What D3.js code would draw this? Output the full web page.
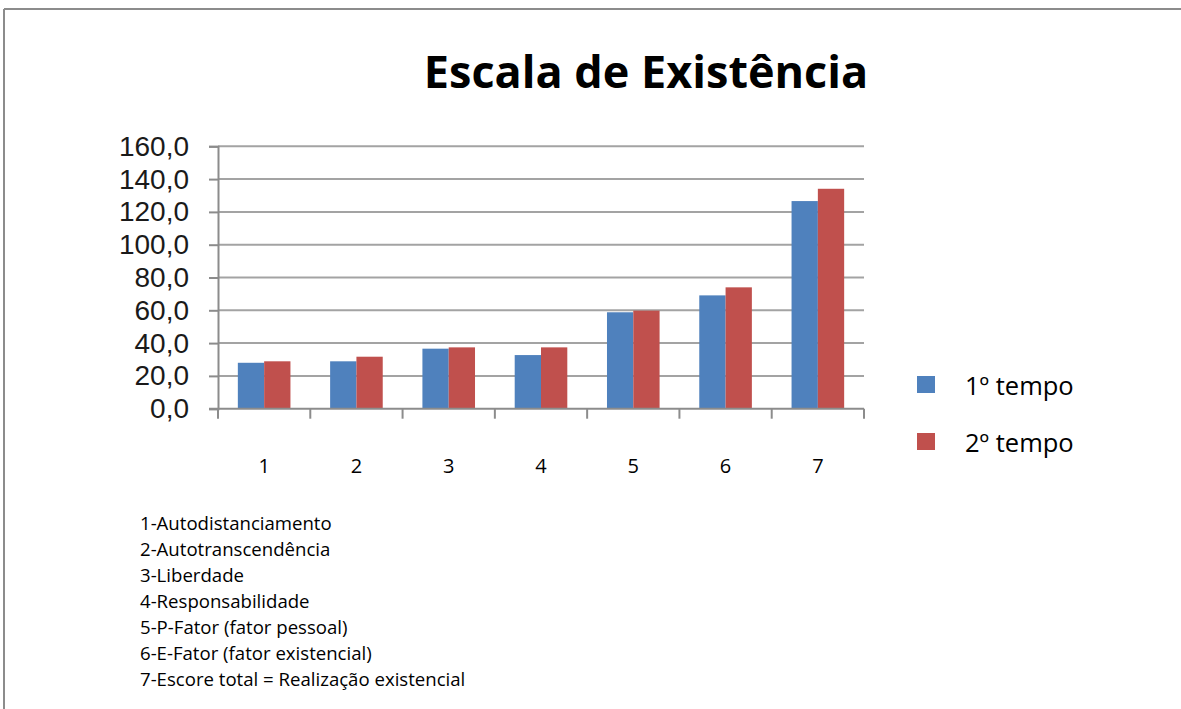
<!DOCTYPE html>
<html>
<head>
<meta charset="utf-8">
<script src="https://cdn.jsdelivr.net/npm/d3@7"></script>
<style>
  html, body { margin: 0; padding: 0; background: #fff; }
  svg { display: block; font-family: "Open Sans", Lato, sans-serif; }
</style>
</head>
<body>
<svg id="chart" width="1181" height="709"></svg>
<script>
// Escala de Existência — mean scores per dimension, two time points
const categories = ["1", "2", "3", "4", "5", "6", "7"];
const seriesNames = ["1º tempo", "2º tempo"];
const tempo1 = [28.0, 28.9, 36.6, 32.7, 58.8, 69.1, 126.6];
const tempo2 = [28.9, 31.7, 37.4, 37.4, 59.8, 74.0, 134.1];
const yTicks = [0, 20, 40, 60, 80, 100, 120, 140, 160];
const footnotes = [
  "1-Autodistanciamento",
  "2-Autotranscendência",
  "3-Liberdade",
  "4-Responsabilidade",
  "5-P-Fator (fator pessoal)",
  "6-E-Fator (fator existencial)",
  "7-Escore total = Realização existencial"
];
const colors = ["#4F81BD", "#C0504D"];

const svg = d3.select("#chart");

// Frame lines (top and left)
svg.append("line").attr("x1", 4).attr("x2", 1181).attr("y1", 9).attr("y2", 9)
  .attr("stroke", "#8c8c8c").attr("stroke-width", 2);
svg.append("line").attr("x1", 4).attr("x2", 4).attr("y1", 9).attr("y2", 709)
  .attr("stroke", "#8c8c8c").attr("stroke-width", 2);

// Title
svg.append("text")
  .attr("x", 646).attr("y", 88)
  .attr("text-anchor", "middle")
  .attr("font-size", 45).attr("font-weight", "bold")
  .attr("fill", "#000")
  .text("Escala de Existência");

const plotLeft = 218, plotRight = 864, plotTop = 146.3, plotBottom = 408.7;

const x = d3.scaleBand().domain(categories).range([plotLeft, plotRight])
  .paddingInner(0.43).paddingOuter(0.215);
const xs = d3.scaleBand().domain(seriesNames).range([0, x.bandwidth()]);
const y = d3.scaleLinear().domain([0, 160]).range([plotBottom, plotTop]);

// Horizontal gridlines
svg.append("g").selectAll("line").data(yTicks.filter(d => d > 0)).join("line")
  .attr("x1", plotLeft).attr("x2", plotRight)
  .attr("y1", d => y(d)).attr("y2", d => y(d))
  .attr("stroke", "#a3a3a3").attr("stroke-width", 2);

// Bars
const groups = svg.append("g").selectAll("g").data(categories).join("g")
  .attr("transform", d => `translate(${x(d)},0)`);
groups.selectAll("rect")
  .data((d, i) => [tempo1[i], tempo2[i]].map((v, k) => ({ v, k })))
  .join("rect")
  .attr("x", d => xs(seriesNames[d.k]))
  .attr("width", xs.bandwidth())
  .attr("y", d => y(d.v))
  .attr("height", d => plotBottom - y(d.v))
  .attr("fill", d => colors[d.k]);

// Y axis (compact-metric font so the closely spaced labels stay clear of each other)
const yAxis = d3.axisLeft(y).tickValues(yTicks).tickSize(9).tickPadding(20)
  .tickFormat(d => d3.format(".1f")(d).replace(".", ","));
const gy = svg.append("g").attr("transform", `translate(${plotLeft},0)`).call(yAxis);
gy.select(".domain").attr("stroke", "#8c8c8c").attr("stroke-width", 2);
gy.selectAll(".tick line").attr("stroke", "#8c8c8c").attr("stroke-width", 2);
gy.selectAll(".tick text").attr("font-size", 28).attr("fill", "#1a1a1a")
  .attr("font-family", "'Liberation Sans', Arial, sans-serif");

// X axis baseline with boundary ticks between categories
svg.append("line").attr("x1", plotLeft - 9).attr("x2", plotRight).attr("y1", plotBottom).attr("y2", plotBottom)
  .attr("stroke", "#8c8c8c").attr("stroke-width", 2);
const step = x.step();
const boundaries = d3.range(categories.length + 1).map(i => plotLeft + i * step);
svg.append("g").selectAll("line").data(boundaries).join("line")
  .attr("x1", d => d).attr("x2", d => d)
  .attr("y1", plotBottom).attr("y2", plotBottom + 10)
  .attr("stroke", "#8c8c8c").attr("stroke-width", 2);
svg.append("g").selectAll("text").data(categories).join("text")
  .attr("x", d => x(d) + x.bandwidth() / 2)
  .attr("y", 473)
  .attr("text-anchor", "middle")
  .attr("font-size", 20).attr("fill", "#000")
  .text(d => d);

// Legend
const legend = svg.append("g").selectAll("g").data(seriesNames).join("g")
  .attr("transform", (d, i) => `translate(917,${376 + i * 57})`);
legend.append("rect").attr("width", 18).attr("height", 17)
  .attr("fill", (d, i) => colors[i]);
legend.append("text").attr("x", 48).attr("y", 19)
  .attr("font-size", 25.5).attr("fill", "#000")
  .text(d => d);

// Category key below the chart
svg.append("g").selectAll("text").data(footnotes).join("text")
  .attr("x", 140).attr("y", (d, i) => 530 + i * 26)
  .attr("font-size", 18.6).attr("fill", "#000")
  .text(d => d);
</script>
</body>
</html>
